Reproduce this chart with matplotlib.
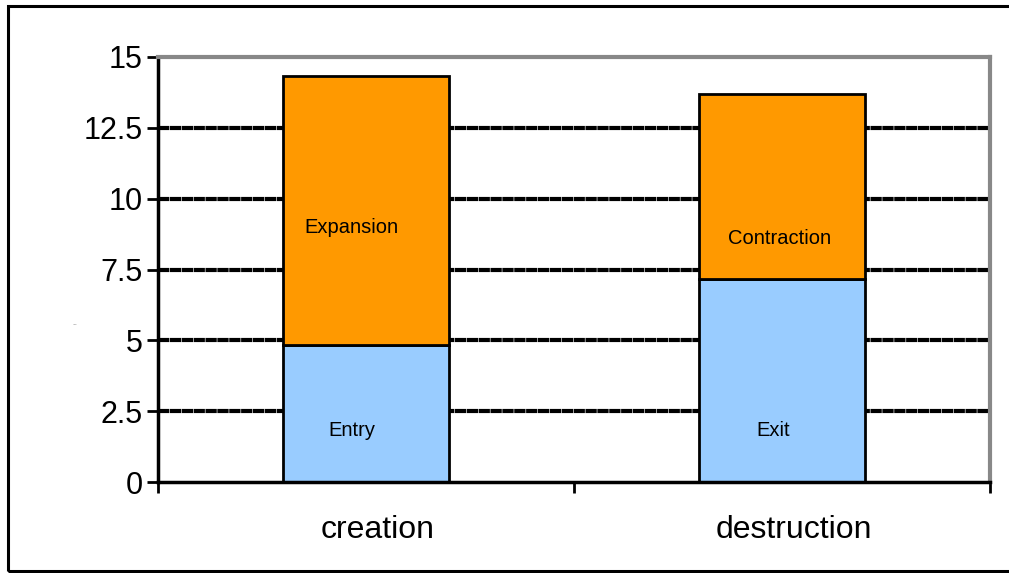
import matplotlib
matplotlib.use("Agg")
import matplotlib.pyplot as plt
from matplotlib.patches import Rectangle
from matplotlib.transforms import ScaledTranslation

plt.rcParams['font.family'] = ['Liberation Sans', 'DejaVu Sans']

categories = ["creation", "destruction"]
lower_values = [4.84, 7.17]          # Entry, Exit
upper_values = [9.49, 6.53]          # Expansion, Contraction
lower_labels = ["Entry", "Exit"]
upper_labels = ["Expansion", "Contraction"]
ytick_values = [0, 2.5, 5, 7.5, 10, 12.5, 15]
ytick_labels = ["0", "2.5", "5", "7.5", "10", "12.5", "15"]

W, H = 1009, 573
fig = plt.figure(figsize=(W / 100, H / 100), dpi=100)

# outer frame
fig.patches.append(Rectangle((8 / W, 2 / H), 1.2, 565 / H, transform=fig.transFigure,
                             fill=False, edgecolor='black', linewidth=2.2))
# partially visible title (clipped at top of the image)
fig.text(143 / W, 1.0 + 6 / H, "(% of employment)", fontsize=20, fontweight='bold',
         ha='left', va='baseline')

ax = fig.add_axes([158 / W, 1 - 482 / H, (990 - 158) / W, (482 - 57) / H])

x = [0, 1]
bw = 0.4
ax.bar(x, lower_values, width=bw, color='#99CCFF', edgecolor='black', linewidth=2, zorder=3)
ax.bar(x, upper_values, width=bw, bottom=lower_values, color='#FF9900', edgecolor='black',
       linewidth=2, zorder=3)

lower_label_x = [-0.035, 0.978]
upper_label_x = [-0.036, 0.995]
lower_label_y = [1.8, 1.8]
upper_label_y = [8.97, 8.61]
for i in range(2):
    ax.text(lower_label_x[i], lower_label_y[i], lower_labels[i],
            ha='center', va='center', fontsize=14.5, zorder=4)
    ax.text(upper_label_x[i], upper_label_y[i], upper_labels[i],
            ha='center', va='center', fontsize=14.5, zorder=4)

ax.set_xlim(-0.5, 1.5)
ax.set_ylim(0, 15)
ax.set_yticks(ytick_values)
ax.set_yticklabels(ytick_labels, fontsize=22)
ax.set_xticks([-0.5, 0.5, 1.5])
ax.set_xticklabels([])
ax.set_xticks(x, minor=True)
ax.set_xticklabels(categories, minor=True, fontsize=23)
ax.tick_params(axis='x', which='minor', length=0, pad=24)
ax.tick_params(axis='x', which='major', direction='out', length=8, width=2)
ax.tick_params(axis='y', direction='out', length=8, width=2, pad=3)
shift = ScaledTranslation(12 / 100, 0, fig.dpi_scale_trans)
for lbl in ax.get_xticklabels(minor=True):
    lbl.set_transform(lbl.get_transform() + shift)

for v in ytick_values[1:-1]:
    ax.axhline(v, color='black', linewidth=3, linestyle=(0, (2.7, 0.15)), zorder=1)

ax.spines['left'].set_linewidth(2.5)
ax.spines['bottom'].set_linewidth(2.5)
ax.spines['bottom'].set_zorder(5)
ax.spines['top'].set_color('#888888')
ax.spines['right'].set_color('#888888')
ax.spines['top'].set_linewidth(3)
ax.spines['right'].set_linewidth(3)

fig.text(75 / W, 1 - 325 / H, "~~", fontsize=3, color='#555555', ha='center', va='center')

fig.savefig("out.png", dpi=100)
